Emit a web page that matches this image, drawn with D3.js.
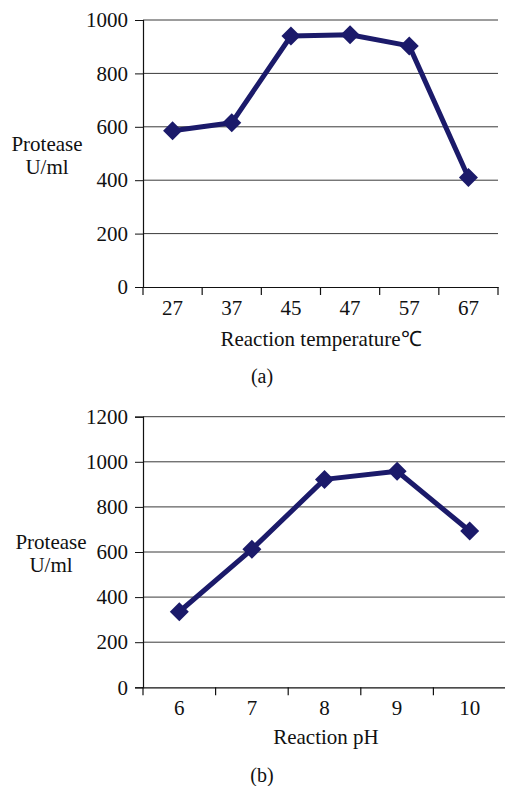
<!DOCTYPE html>
<html>
<head>
<meta charset="utf-8">
<script src="https://cdn.jsdelivr.net/npm/d3@7"></script>
<style>
  body { margin: 0; background: #fff; }
  svg { display: block; }
  text { font-family: "Liberation Serif", "Times New Roman", serif; fill: #111; }
</style>
</head>
<body>
<div id="chart"></div>
<script>
// Panel (a): temperature
var tempCats = ['27', '37', '45', '47', '57', '67'];
var tempVals = [585, 615, 940, 945, 903, 410];
var tempTicks = [0, 200, 400, 600, 800, 1000];

// Panel (b): pH
var phCats = ['6', '7', '8', '9', '10'];
var phVals = [335, 612, 922, 958, 693];
var phTicks = [0, 200, 400, 600, 800, 1000, 1200];

var w = 505;
var h = 786;
var navy = '#1b1a6a';

var svg = d3.select('#chart').append('svg')
  .attr('width', w)
  .attr('height', h);

function drawPanel(opts) {
  var x = d3.scaleBand()
    .domain(opts.cats)
    .range([opts.left, opts.right]);
  var y = d3.scaleLinear()
    .domain([0, opts.max])
    .range([opts.bottom, opts.top]);

  var g = svg.append('g');

  // gridlines
  g.append('g').selectAll('line')
    .data(opts.ticks.filter(function(d) { return d > 0; }))
    .enter().append('line')
    .attr('x1', opts.left).attr('x2', opts.right)
    .attr('y1', function(d) { return y(d); })
    .attr('y2', function(d) { return y(d); })
    .attr('stroke', '#3a3a3a')
    .attr('stroke-width', 1);

  // y axis
  var ya = g.append('g')
    .attr('transform', 'translate(' + opts.left + ',0)')
    .call(d3.axisLeft(y).tickValues(opts.ticks).tickSize(8).tickPadding(7).tickFormat(d3.format('d')));
  ya.select('.domain').attr('stroke', '#111').attr('stroke-width', 1.2);
  ya.selectAll('.tick line').attr('stroke', '#111');
  ya.selectAll('.tick text').style('font-size', '21px').attr('fill', '#111');

  // x axis
  var xa = g.append('g')
    .attr('transform', 'translate(0,' + opts.bottom + ')')
    .call(d3.axisBottom(x).tickSize(0).tickPadding(13));
  xa.select('.domain').attr('stroke', '#111').attr('stroke-width', 1.2);
  xa.selectAll('.tick text').style('font-size', '21px').attr('fill', '#111');
  // category boundary ticks
  var edges = opts.cats.map(function(c) { return x(c); }).concat([x(opts.cats[opts.cats.length - 1]) + x.bandwidth()]);
  g.append('g').selectAll('line')
    .data(edges)
    .enter().append('line')
    .attr('x1', function(d) { return d; }).attr('x2', function(d) { return d; })
    .attr('y1', opts.bottom).attr('y2', opts.bottom + 8)
    .attr('stroke', '#111').attr('stroke-width', 1.2);

  // data line
  var line = d3.line()
    .x(function(d, i) { return x(opts.cats[i]) + x.bandwidth() / 2; })
    .y(function(d) { return y(d); });
  g.append('path')
    .datum(opts.vals)
    .attr('d', line)
    .attr('fill', 'none')
    .attr('stroke', navy)
    .attr('stroke-width', 5)
    .attr('stroke-linejoin', 'round');

  g.append('g').selectAll('path')
    .data(opts.vals)
    .enter().append('path')
    .attr('d', d3.symbol().type(d3.symbolDiamond2).size(230))
    .attr('transform', function(d, i) {
      return 'translate(' + (x(opts.cats[i]) + x.bandwidth() / 2) + ',' + y(d) + ')';
    })
    .attr('fill', navy);

  // y title
  var yt = g.append('text')
    .attr('text-anchor', 'middle')
    .style('font-size', '21px');
  yt.append('tspan').attr('x', opts.ytX).attr('y', opts.ytY).text('Protease');
  yt.append('tspan').attr('x', opts.ytX).attr('y', opts.ytY + 23).text('U/ml');

  g.append('text')
    .attr('x', opts.xtX).attr('y', opts.xtY)
    .attr('text-anchor', 'middle')
    .style('font-size', '21px')
    .text(opts.xtitle);

  g.append('text')
    .attr('x', 262).attr('y', opts.capY)
    .attr('text-anchor', 'middle')
    .style('font-size', '20px')
    .text(opts.caption);
}

drawPanel({
  cats: tempCats, vals: tempVals, ticks: tempTicks, max: 1000,
  left: 143, right: 498, top: 20, bottom: 287,
  ytX: 47, ytY: 151, xtX: 321, xtY: 346, xtitle: 'Reaction temperature\u2103',
  capY: 383, caption: '(a)'
});

drawPanel({
  cats: phCats, vals: phVals, ticks: phTicks, max: 1200,
  left: 143, right: 506, top: 416.7, bottom: 687.3,
  ytX: 51, ytY: 549, xtX: 326, xtY: 744, xtitle: 'Reaction pH',
  capY: 782, caption: '(b)'
});
</script>
</body>
</html>
